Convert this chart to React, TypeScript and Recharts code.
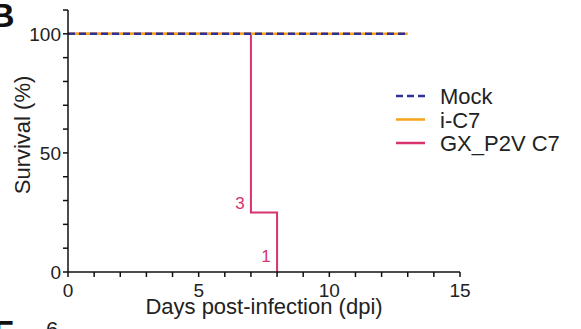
import { LineChart, Line, XAxis, YAxis, ReferenceDot, Label } from 'recharts'

const mockDays = [0, 13]
const mockSurvival = [100, 100]
const ic7Days = [0, 13]
const ic7Survival = [100, 100]
const gxDays = [0, 7, 8]
const gxSurvival = [100, 25, 0]

const xTicks = [0, 1, 2, 3, 4, 5, 6, 7, 8, 9, 10, 11, 12, 13, 14, 15]
const xLabeled = [0, 5, 10, 15]
const yTicks = [0, 10, 20, 30, 40, 50, 60, 70, 80, 90, 100, 110]
const yLabeled = [0, 50, 100]

const deathCounts = [
  { day: 7, value: 25, text: '3' },
  { day: 8, value: 0, text: '1' },
]

const NAVY = '#2e3192'
const ORANGE = '#f7a21b'
const PINK = '#d6336f'
const FONT = '"Liberation Sans", Arial, sans-serif'

const toPoints = (days: number[], vals: number[]) =>
  days.map((day, i) => ({ day, value: vals[i] }))

const mock = toPoints(mockDays, mockSurvival)
const ic7 = toPoints(ic7Days, ic7Survival)
const gx = toPoints(gxDays, gxSurvival)

const legendItems = [
  { name: 'Mock', color: NAVY, dash: '7 4' },
  { name: 'i-C7', color: ORANGE, dash: undefined },
  { name: 'GX_P2V C7', color: PINK, dash: undefined },
]

const XTick = ({ x, y, payload }: any) =>
  xLabeled.includes(payload.value) ? (
    <text x={x} y={y} dy={18} textAnchor="middle" fontSize={19} fill="#222" fontFamily={FONT}>
      {payload.value}
    </text>
  ) : null

const YTick = ({ x, y, payload }: any) =>
  yLabeled.includes(payload.value) ? (
    <text x={x} y={y} dy={7} textAnchor="end" fontSize={19} fill="#222" fontFamily={FONT}>
      {payload.value}
    </text>
  ) : null

// legend drawn by hand, placed to the right of the plot
const LegendBox = () => (
  <g transform="translate(394, 96)">
    {legendItems.map((it, i) => (
      <g key={it.name} transform={`translate(0, ${i * 23.5})`}>
        <line x1={2} x2={31} y1={0} y2={0} stroke={it.color} strokeWidth={2.5} strokeDasharray={it.dash} />
        <text x={46} y={8} fontSize={22} fill="#222" fontFamily={FONT}>
          {it.name}
        </text>
      </g>
    ))}
  </g>
)

export default function App() {
  return (
    <div style={{ position: 'absolute', left: 0, top: 0, width: 581, height: 329, background: '#fff', overflow: 'hidden' }}>
      <LineChart width={581} height={329} margin={{ top: 10, right: 121, bottom: 0, left: 0 }}>
        <XAxis
          type="number"
          dataKey="day"
          domain={[0, 15]}
          ticks={xTicks}
          interval={0}
          tick={<XTick />}
          tickSize={5}
          height={57}
          stroke="#111"
          strokeWidth={1.5}
          allowDuplicatedCategory={false}
        >
          <Label
            value="Days post-infection (dpi)"
            position="insideBottom"
            offset={15}
            fontSize={22}
            fill="#222"
            fontFamily={FONT}
          />
        </XAxis>
        <YAxis
          type="number"
          dataKey="value"
          domain={[0, 110]}
          ticks={yTicks}
          interval={0}
          tick={<YTick />}
          tickSize={5}
          width={68}
          stroke="#111"
          strokeWidth={1.5}
        />
        <Line
          data={gx}
          dataKey="value"
          name="GX_P2V C7"
          type="stepAfter"
          stroke={PINK}
          strokeWidth={2}
          dot={false}
          isAnimationActive={false}
        />
        <Line
          data={ic7}
          dataKey="value"
          name="i-C7"
          type="stepAfter"
          stroke={ORANGE}
          strokeWidth={2.5}
          dot={false}
          isAnimationActive={false}
        />
        <Line
          data={mock}
          dataKey="value"
          name="Mock"
          type="stepAfter"
          stroke={NAVY}
          strokeWidth={2.5}
          strokeDasharray="7 4"
          dot={false}
          isAnimationActive={false}
        />
        {deathCounts.map((d) => (
          <ReferenceDot
            key={d.text}
            x={d.day}
            y={d.value}
            r={0}
            ifOverflow="visible"
            label={(p: any) => (
              <text
                x={p.viewBox.x - 11}
                y={p.viewBox.y - (d.value === 0 ? 10 : 3)}
                textAnchor="middle"
                fontSize={17}
                fill={PINK}
                fontFamily={FONT}
              >
                {d.text}
              </text>
            )}
          />
        ))}
      </LineChart>
      <svg width={581} height={329} style={{ position: 'absolute', left: 0, top: 0, pointerEvents: 'none' }}>
        <LegendBox />
        <text
          transform="translate(30, 135) rotate(-90)"
          textAnchor="middle"
          fontSize={22}
          fill="#222"
          fontFamily={FONT}
        >
          Survival (%)
        </text>
        <text x={-10} y={27} fontSize={34} fontWeight="bold" fill="#111" fontFamily={FONT}>
          B
        </text>
        <text x={-7} y={344} fontSize={34} fontWeight="bold" fill="#111" fontFamily={FONT}>
          F
        </text>
        <text x={46} y={337} fontSize={22} fill="#222" fontFamily={FONT}>
          6
        </text>
      </svg>
    </div>
  )
}
